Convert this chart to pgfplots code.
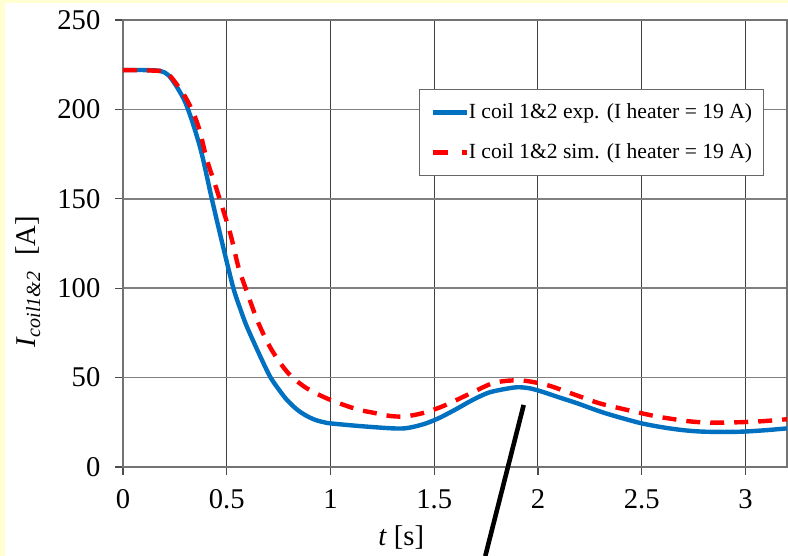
\documentclass[border=0pt]{standalone}
\usepackage{fontspec}
\setmainfont{Liberation Serif}
\usepackage{pgfplots}
\pgfplotsset{compat=1.18}
\definecolor{expblue}{HTML}{0070C0}
\definecolor{bgyellow}{HTML}{FFFFD2}
\begin{document}
\begin{tikzpicture}
% page = 788x556 px, 1 px = 0.5pt, axis box lower left at (0,0)
\fill[bgyellow] (-61.5pt,-44.5pt) rectangle (332.5pt,233.5pt);
\fill[white] (-59pt,-44.5pt) rectangle (332.5pt,232pt);
\path[use as bounding box, clip] (-61.5pt,-44.5pt) rectangle (332.5pt,233.5pt);
\begin{axis}[
    at={(0,0)}, anchor=south west,
    scale only axis,
    width=332pt, height=223.5pt,
    xmin=0, xmax=3.2,
    ymin=0, ymax=250,
    xtick={0,0.5,...,3},
    ytick={0,50,...,250},
    /pgf/number format/assume math mode=true,
    tick label style={font=\fontsize{14.3}{17}\selectfont},
    yticklabel style={xshift=-3.8pt},
    xticklabel style={yshift=-3.7pt},
    tick align=outside,
    major tick length=4pt,
    xtick pos=left, ytick pos=left,
    tick style={black!70, line width=0.6pt},
    axis line style={black!55, line width=0.7pt},
    grid=major,
    x grid style={black!75, line width=0.5pt},
    y grid style={black!50, line width=0.8pt},
    xlabel={\textit{t} [s]},
    xlabel style={at={(axis description cs:0.419,-0.157)}, anchor=center,
        font=\fontsize{14.3}{17}\selectfont},
    ylabel={\textit{I}\textsubscript{\textit{coil1\&2}}\hspace{7.5pt}[A]},
    ylabel style={at={(axis description cs:-0.143,0.414)}, anchor=center,
        font=\fontsize{14.3}{17}\selectfont},
    legend style={at={(rel axis cs:0.965,0.846)}, anchor=north east,
        draw=black!60, line width=0.6pt, fill=white,
        font=\fontsize{10.8}{13}\selectfont,
        row sep=11pt, inner xsep=5.5pt, inner ysep=7pt,
        nodes={inner sep=0pt}},
    legend cell align=left,
    legend image code/.code={\draw[#1] (0pt,0pt) -- (17pt,0pt);},
]
% Corrente experimental
\addplot[color=expblue, line width=2.2pt, smooth] coordinates {
    (0,222) (0.10,222) (0.18,221.5) (0.22,219) (0.26,212.5) (0.30,204)
    (0.34,191) (0.38,175) (0.43,149) (0.487,121) (0.532,100) (0.565,88.5)
    (0.597,78.5) (0.661,62) (0.709,50.5) (0.75,43.5) (0.79,37.5) (0.84,32)
    (0.886,28.5) (0.93,26.2) (0.97,25) (1.0,24.4) (1.14,22.9) (1.30,21.6)
    (1.37,21.8) (1.45,24) (1.52,27.2) (1.60,32) (1.685,37.5) (1.76,41.5)
    (1.83,43.4) (1.90,44.6) (1.96,44) (2.02,42.1) (2.10,39) (2.19,35.6)
    (2.30,31) (2.40,27.5) (2.50,24.4) (2.60,22.2) (2.70,20.6) (2.79,19.8)
    (2.90,19.6) (2.99,19.8) (3.10,20.6) (3.20,21.6)
};
\addlegendentry{I coil 1\&2 exp. (I heater = 19 A)}
% Corrente simulada
\addplot[color=red, line width=2.2pt, smooth,
    dash pattern=on 7pt off 5pt,
    legend image code/.code={\draw[red, line width=2.2pt,
        dash pattern=on 7.5pt off 7pt] (0pt,0pt) -- (17pt,0pt);}] coordinates {
    (0,222) (0.18,221.5) (0.22,219.5) (0.259,214) (0.30,207) (0.339,198)
    (0.37,188) (0.404,172) (0.452,155) (0.516,131) (0.556,112) (0.597,98)
    (0.653,80.4) (0.717,65.4) (0.797,52.4) (0.886,44) (1.0,37.5) (1.127,32.3)
    (1.20,30.5) (1.29,28.5) (1.36,28.3) (1.44,30) (1.52,33) (1.59,36.5)
    (1.68,41.5) (1.78,46.8) (1.86,48.3) (1.93,48.3) (2.00,47) (2.07,44.9)
    (2.20,39.5) (2.30,35.5) (2.43,31.9) (2.55,28.8) (2.65,26.8) (2.75,25.3)
    (2.85,24.8) (2.96,25) (3.08,25.6) (3.20,26.7)
};
\addlegendentry{I coil 1\&2 sim. (I heater = 19 A)}
\coordinate (p1) at (axis cs:1.931,34.7);
\coordinate (p2) at (axis cs:1.746,-49.8);
\end{axis}
\draw[black, line width=2.3pt] (p1) -- (p2);
\end{tikzpicture}
\end{document}
